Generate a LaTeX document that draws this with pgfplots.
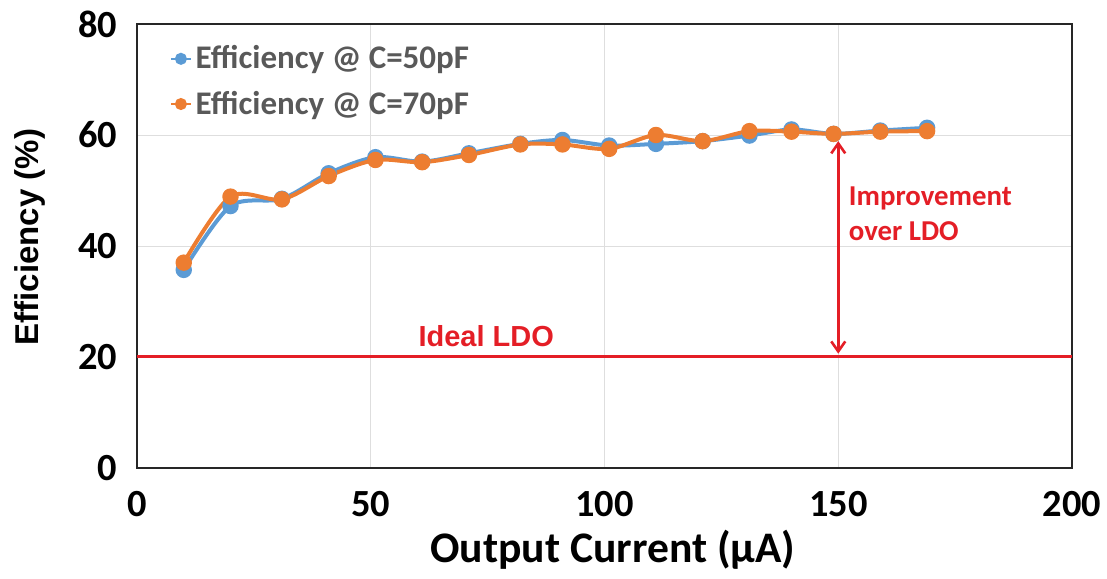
\documentclass[border=0pt]{standalone}
\usepackage{fontspec}
\setmainfont{Carlito}
\newfontfamily\arialfont{Liberation Sans}
\usepackage{pgfplots}
\pgfplotsset{compat=1.18}
\usetikzlibrary{arrows.meta}
\definecolor{effblue}{RGB}{91,155,213}
\definecolor{efforange}{RGB}{237,125,49}
\definecolor{ldored}{RGB}{228,30,38}
\definecolor{legendgray}{RGB}{89,89,89}

\begin{document}
\begin{tikzpicture}[x=1pt,y=1pt]
\useasboundingbox (0,0) rectangle (553.5,289);
\begin{axis}[
  at={(68.5pt,55pt)}, anchor=south west,
  scale only axis, width=467.5pt, height=222pt,
  xmin=0, xmax=200, ymin=0, ymax=80,
  xtick={0,50,...,200}, ytick={0,20,...,80},
  major tick length=0pt,
  grid=major, major grid style={draw=black!13, line width=0.4pt},
  axis line style={black!85, line width=0.9pt},
  /pgf/number format/assume math mode=true,
  tick label style={font=\fontsize{19.2}{19.2}\selectfont\bfseries},
  xticklabel style={yshift=-8pt},
  yticklabel style={xshift=-6.5pt},
  xlabel={Output Current (μA)}, ylabel={Efficiency (\%)},
  xlabel style={at={(axis description cs:0.509,-0.212)}, anchor=base,
    font=\fontsize{21.8}{21.8}\selectfont\bfseries},
  ylabel style={at={(axis description cs:-0.1144,0.52)}, anchor=center,
    font=\arialfont\fontsize{16.5}{16.5}\selectfont\bfseries},
  legend style={draw=none, fill=none, at={(axis description cs:0.035,0.961)},
    anchor=north west, font=\fontsize{16.5}{16.5}\selectfont\bfseries,
    text=legendgray, row sep=5.5pt, inner sep=0pt,
    /tikz/every odd column/.style={inner sep=0pt}},
  legend cell align=left,
  legend image code/.code={\draw[#1, line width=1.2pt, mark size=2.4pt, mark repeat=2, mark phase=2]
    plot coordinates {(0pt,0pt) (4.8pt,0pt) (9.6pt,0pt)};},
]
\addplot[ldored, line width=1.5pt, forget plot] coordinates {(0,20) (200,20)};

\addplot[effblue, line width=2pt, smooth, mark=*, mark size=3.1pt,
  mark options={fill=effblue, draw=effblue}] coordinates {
  (10,35.7) (20,47.2) (31,48.5) (41,53.1) (51,56.0) (61,55.2) (71,56.7)
  (82,58.4) (91,59.1) (101,58.1) (111,58.4) (121,58.9) (131,59.9)
  (140,61.0) (149,60.2) (159,60.8) (169,61.3)};
\addlegendentry{Efficiency @ C=50pF}

\addplot[efforange, line width=2pt, smooth, mark=*, mark size=3.1pt,
  mark options={fill=efforange, draw=efforange}] coordinates {
  (10,37.0) (20,48.9) (31,48.4) (41,52.6) (51,55.5) (61,55.1) (71,56.4)
  (82,58.3) (91,58.3) (101,57.5) (111,60.0) (121,58.9) (131,60.7)
  (140,60.6) (149,60.2) (159,60.6) (169,60.7)};
\addlegendentry{Efficiency @ C=70pF}

\draw[ldored, line width=1.3pt, {Straight Barb[length=5pt,width=7pt]}-{Straight Barb[length=5pt,width=7pt]}]
  (axis cs:150,58.9) -- (axis cs:150,20.6);
\node[anchor=base, inner sep=0pt, text=ldored, font=\arialfont\fontsize{14.5}{14.5}\selectfont\bfseries]
  at (axis cs:74.7,21.9) {Ideal LDO};
\node[anchor=base west, inner sep=0pt, align=left, text=ldored,
  font=\fontsize{14.4}{17.8}\selectfont\bfseries]
  at (axis cs:152.2,40.95) {Improvement\\over LDO};
\end{axis}
\end{tikzpicture}
\end{document}
